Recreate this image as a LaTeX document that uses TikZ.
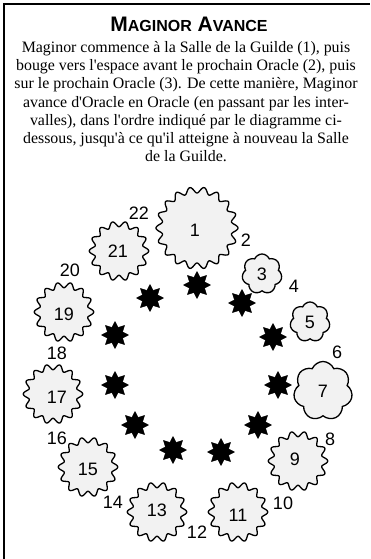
\documentclass[tikz,border=0pt]{standalone}
\usepackage{fontspec}
\setmainfont{Liberation Serif}
\newfontfamily\numfont{Liberation Sans}
\usetikzlibrary{shapes.geometric,shapes.symbols}
\newcommand\sealshape[5]{% cx cy R n amp
  \draw[sealstyle] plot[domain=0:360, samples=300]
    ({#1+(#3+#5*cos(#4*\x))*cos(\x)}, {#2+(#3+#5*cos(#4*\x))*sin(\x)}) -- cycle;}
\begin{document}
\begin{tikzpicture}[x=1pt,y=-1pt,
  sealstyle/.style={draw=black,line width=1.3pt,fill=gray!10,line join=round},
  numlabel/.style={font=\numfont\fontsize{18}{18}\selectfont, inner sep=0pt},
  bodyline/.style={anchor=base, inner sep=0pt, font=\fontsize{15.9}{17}\selectfont},
  blackstar/.style={star, star points=8, star point ratio=1.65, fill=black, draw=black, minimum size=27pt, inner sep=0pt},
  cloudstyle/.style={cloud, cloud puffs=7, cloud puff arc=135, aspect=1, draw=black, line width=1.3pt, fill=gray!10, inner sep=0pt, font=\numfont\fontsize{18}{18}\selectfont}
]
\useasboundingbox (0,0) rectangle (370,559);
\fill[white] (0,0) rectangle (370,559);
\draw[line width=1.5pt] (4,559) -- (4,4) -- (370,4);
% title
\node[anchor=base, inner sep=0pt, font=\numfont\bfseries\fontsize{21}{21}\selectfont] (title) at (189,32)
  {M{\fontsize{16}{16}\selectfont AGINOR} A{\fontsize{16}{16}\selectfont VANCE}};
\node[bodyline] (l1) at (186,53) {Maginor commence à la Salle de la Guilde (1), puis};
\node[bodyline] (l2) at (186,71) {bouge vers l\textquotesingle espace avant le prochain Oracle (2), puis};
\node[bodyline] (l3) at (186,89) {sur le prochain Oracle (3). De cette manière, Maginor};
\node[bodyline] (l4) at (186,107) {avance d\textquotesingle Oracle en Oracle (en passant par les inter-};
\node[bodyline] (l5) at (186,125) {valles), dans l\textquotesingle ordre indiqué par le diagramme ci-};
\node[bodyline] (l6) at (186,143) {dessous, jusqu\textquotesingle à ce qu\textquotesingle il atteigne à nouveau la Salle};
\node[bodyline] (l7) at (186,161) {de la Guilde.};
% seal shapes
\sealshape{197}{228}{38}{18}{3}
\sealshape{119}{251}{27}{14}{2.7}
\sealshape{64}{312}{27}{14}{2.7}
\sealshape{53}{394}{27}{14}{2.7}
\sealshape{88}{467}{27}{14}{2.7}
\sealshape{157}{512}{27}{14}{2.7}
\sealshape{238}{512}{27}{14}{2.7}
\sealshape{298}{461}{27}{14}{2.7}
% clouds
\node[cloudstyle, minimum width=40pt, minimum height=40pt] (o3) at (262,274) {3};
\node[cloudstyle, minimum width=40pt, minimum height=40pt, shape border rotate=20] (o5) at (310,322) {5};
\node[cloudstyle, minimum width=59pt, minimum height=59pt, shape border rotate=10] (o7) at (323,391) {7};
% labels inside seals
\node[numlabel] (o1) at (195,230) {1};
\node[numlabel] (o21) at (118,251) {21};
\node[numlabel] (o19) at (64,314) {19};
\node[numlabel] (o17) at (57,397) {17};
\node[numlabel] (o15) at (88,469) {15};
\node[numlabel] (o13) at (157,510) {13};
\node[numlabel] (o11) at (238,515) {11};
\node[numlabel] (o9) at (295,459) {9};
% outside labels
\node[numlabel] (n2) at (246,240) {2};
\node[numlabel] (n4) at (294,286) {4};
\node[numlabel] (n6) at (337,352) {6};
\node[numlabel] (n8) at (330,439) {8};
\node[numlabel] (n10) at (283,503) {10};
\node[numlabel] (n12) at (197,532) {12};
\node[numlabel] (n14) at (113,502) {14};
\node[numlabel] (n16) at (57,438) {16};
\node[numlabel] (n18) at (57,353) {18};
\node[numlabel] (n20) at (70,270) {20};
\node[numlabel] (n22) at (139,213) {22};
% black stars
\node[blackstar] (st1) at (197,285) {};
\node[blackstar] (st2) at (242,303) {};
\node[blackstar] (st3) at (273,337) {};
\node[blackstar] (st4) at (278,385) {};
\node[blackstar] (st5) at (258,425) {};
\node[blackstar] (st6) at (221,452) {};
\node[blackstar] (st7) at (173,450) {};
\node[blackstar] (st8) at (135,425) {};
\node[blackstar] (st9) at (115,385) {};
\node[blackstar] (st10) at (115,335) {};
\node[blackstar] (st11) at (150,298) {};
\end{tikzpicture}
\end{document}
